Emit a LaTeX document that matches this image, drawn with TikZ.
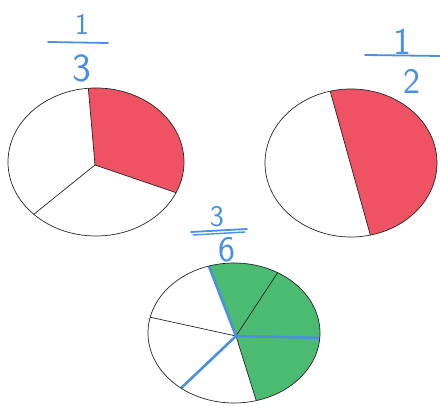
\documentclass[tikz,border=0pt]{standalone}
\usepackage{tikz}
\usetikzlibrary{calc}
\definecolor{penblue}{HTML}{4A8FE0}
\definecolor{piered}{HTML}{EF5363}
\definecolor{piegreen}{HTML}{4CBB72}

\begin{document}
\begin{tikzpicture}[
    x=1pt, y=1pt,
    rim/.style={draw=black!85, line width=0.7pt},
    cut/.style={draw=black!85, line width=0.7pt},
    pencut/.style={draw=penblue, line width=2.6pt},
    digit/.style={text=penblue, font=\sffamily\fontsize{36}{38}\selectfont, inner sep=0pt},
    bar/.style={draw=penblue, line width=1.8pt, line cap=round}
]
\useasboundingbox (0,0) rectangle (440,406);

% one third
\coordinate (thirdc) at (96,244);
\coordinate (thirdv) at (95,241);
\fill[piered] (thirdv) -- ($(thirdc)+(95:88 and 74)$) arc[start angle=95, end angle=-24.5, x radius=88, y radius=74] -- cycle;
\draw[cut] ($(thirdc)+(95:88 and 74)$) -- (thirdv) -- ($(thirdc)+(-24.5:88 and 74)$);
\draw[cut] (thirdv) -- ($(thirdc)+(225:88 and 74)$);
\draw[rim] (thirdc) ellipse [x radius=88, y radius=74];

% one half
\coordinate (halfc) at (351,243);
\fill[piered] ($(halfc)+(104:86 and 74)$) arc[start angle=104, end angle=-77, x radius=86, y radius=74] -- cycle;
\draw[cut] ($(halfc)+(104:86 and 74)$) -- ($(halfc)+(-77:86 and 74)$);
\draw[rim] (halfc) ellipse [x radius=86, y radius=74];

% three sixths
\coordinate (sixthc) at (234,73);
\coordinate (sixthv) at (236,70);
\fill[piegreen] (sixthv) -- ($(sixthc)+(107:86 and 70)$) arc[start angle=107, end angle=-75, x radius=86, y radius=70] -- cycle;
\draw[cut] (sixthv) -- ($(sixthc)+(59.5:86 and 70)$);
\draw[cut] (sixthv) -- ($(sixthc)+(-75:86 and 70)$);
\draw[cut] (sixthv) -- ($(sixthc)+(167:86 and 70)$);
\draw[pencut] (sixthv) -- ($(sixthc)+(107:86 and 70)$);
\draw[pencut] (sixthv) -- ($(sixthc)+(-4:86 and 70)$);
\draw[pencut] (sixthv) -- ($(sixthc)+(232:86 and 70)$);
\draw[rim] (sixthc) ellipse [x radius=86, y radius=70];

% fractions
\node[digit, font=\sffamily\fontsize{30}{32}\selectfont] (thirdnum) at (82,382) {1};
\node[digit, font=\sffamily\fontsize{40}{42}\selectfont] (thirdden) at (82,338) {3};
\draw[bar] (48,364) -- (108,363);

\node[digit, font=\sffamily\fontsize{38}{40}\selectfont] (halfnum) at (402,364) {1};
\node[digit] (halfden) at (412,325) {2};
\draw[bar] (365,351) -- (440,350);

\node[digit, font=\sffamily\fontsize{30}{32}\selectfont] (sixthnum) at (217,189) {3};
\node[digit] (sixthden) at (227,156) {6};
\draw[bar] (191,174) -- (247,177);
\draw[bar, line width=1.4pt] (193,171) -- (245,174);
\end{tikzpicture}
\end{document}
